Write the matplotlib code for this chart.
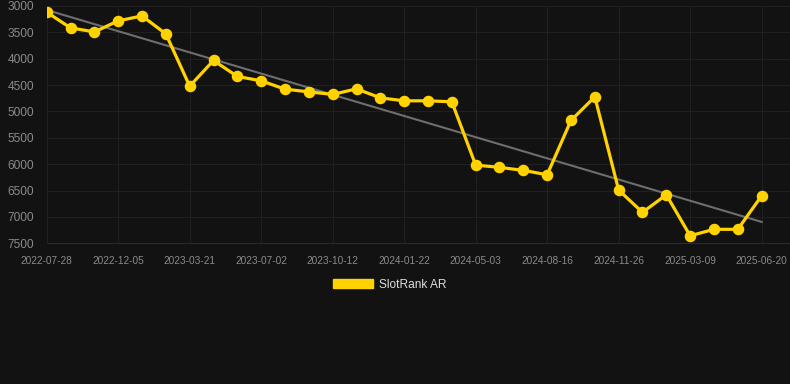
import numpy as np
import matplotlib
matplotlib.use("Agg")
import matplotlib.pyplot as plt
from matplotlib.patches import Patch

plt.rcParams["font.family"] = ["Liberation Sans", "DejaVu Sans"]

tick_labels = ["2022-07-28", "2022-12-05", "2023-03-21", "2023-07-02", "2023-10-12",
               "2024-01-22", "2024-05-03", "2024-08-16", "2024-11-26", "2025-03-09",
               "2025-06-20"]
rank = [3117, 3415, 3491, 3282, 3188, 3529, 4520, 4033, 4336, 4419,
        4577, 4628, 4677, 4571, 4742, 4798, 4798, 4817, 6017, 6060,
        6117, 6200, 5170, 4723, 6491, 6913, 6580, 7357, 7235, 7235,
        6599]
series_name = "SlotRank AR"

bg = "#121212"
fig = plt.figure(figsize=(7.9, 3.84), dpi=100, facecolor=bg)
ax = fig.add_axes([46.7 / 790, (384 - 243.3) / 384, (790 - 46.7) / 790, (243.3 - 6) / 384])
ax.set_facecolor(bg)

x = np.arange(len(rank))
coef = np.polyfit(x, rank, 1)
ax.plot(x, np.polyval(coef, x), color="#6e6e6e", lw=1.5, zorder=2)
ax.plot(x, rank, color="#FFD200", lw=2.3, marker="o", ms=7.3, zorder=3)

ax.set_xlim(0, 31.19)
ax.set_ylim(7500, 3000)
ax.set_yticks(np.arange(3000, 7501, 500))
ax.set_xticks(x[::3])
ax.set_xticklabels(tick_labels)
ax.grid(True, color="#202020", lw=0.8)
ax.set_axisbelow(True)
for s in ["top", "right", "left"]:
    ax.spines[s].set_visible(False)
ax.spines["bottom"].set_color("#2a2a2a")
ax.tick_params(axis="both", colors="#8a8a8a", length=0)
ax.tick_params(axis="y", pad=9, labelsize=8.6)
ax.tick_params(axis="x", pad=9, labelsize=7.3)

leg = fig.legend(handles=[Patch(facecolor="#FFD200", edgecolor="#FFD200")], labels=[series_name],
                 loc="center", bbox_to_anchor=(390 / 790, 1 - 284.5 / 384), frameon=False,
                 handlelength=3.35, handleheight=0.84, fontsize=8.6, labelcolor="#dddddd",
                 handletextpad=0.5)

fig.savefig("out.png", dpi=100, facecolor=bg)
